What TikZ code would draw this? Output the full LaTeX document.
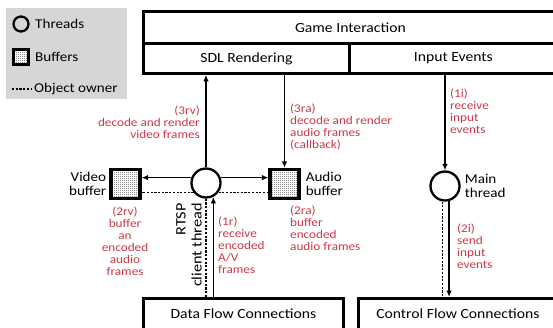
\documentclass[tikz,border=0pt]{standalone}
\usepackage{fontspec}
\setmainfont{Carlito}[FakeStretch=1.12]
\usetikzlibrary{arrows.meta,patterns}
\definecolor{stepred}{RGB}{205,55,70}
\definecolor{legendgray}{RGB}{214,214,214}

% fine grid of dots for the buffer fill
\pgfdeclarepatternformonly{finedots}{\pgfqpoint{-0.5pt}{-0.5pt}}{\pgfqpoint{1.5pt}{1.5pt}}{\pgfqpoint{2pt}{2pt}}{%
  \pgfpathcircle{\pgfqpoint{0.5pt}{0.5pt}}{0.5pt}\pgfusepath{fill}}

\begin{document}
\begin{tikzpicture}[x=1pt,y=-1pt,
  box/.style={draw,line width=2.8pt,inner sep=0pt,font=\fontsize{14}{16}\selectfont},
  thread/.style={draw,circle,line width=2.3pt,minimum size=29pt,inner sep=0pt},
  buffer/.style={draw,line width=3.2pt,minimum size=29pt,inner sep=0pt,
    preaction={fill=white},pattern=finedots,pattern color=black!55},
  flow/.style={line width=1.4pt,-{Latex[length=6.5pt,width=5.5pt]}},
  owner/.style={line width=1.2pt,dash pattern=on 2.2pt off 1.5pt},
  steplabel/.style={text=stepred,inner sep=0pt,font=\fontsize{11.8}{12}\selectfont},
  namelabel/.style={inner sep=0pt,font=\fontsize{13.5}{14}\selectfont},
  legendtext/.style={inner sep=0pt,anchor=west,font=\fontsize{13.5}{15}\selectfont},
]
\useasboundingbox (0,0) rectangle (553,327);

% legend
\node[fill=legendgray,minimum width=121pt,minimum height=91pt,anchor=north west,inner sep=0pt] (legend) at (6,8) {};
\node[thread,minimum size=15pt] (legthread) at (21,24) {};
\node[legendtext] (legthreadtext) at (35,24) {Threads};
\node[buffer,minimum size=15pt,line width=2.8pt] (legbuffer) at (21,57) {};
\node[legendtext] (legbuffertext) at (35,57) {Buffers};
\coordinate (ownA) at (12,89);
\coordinate (ownB) at (31,89);
\draw[owner] (ownA) -- (ownB);
\node[legendtext] (legownertext) at (34,89) {Object owner};

% top layer
\node[box,minimum width=414pt,minimum height=32pt,anchor=north west] (game) at (142,10) {Game Interaction};
\node[box,minimum width=206pt,minimum height=30pt,anchor=north west] (sdl) at (142,42) {SDL Rendering};
\node[box,minimum width=208pt,minimum height=30pt,anchor=north west] (input) at (348,42) {Input Events};

% bottom layer
\node[box,minimum width=200pt,minimum height=40pt,text height=9.5pt,text depth=9pt,anchor=north west] (data) at (142,297) {Data Flow Connections};
\node[box,minimum width=199pt,minimum height=40pt,text height=9.5pt,text depth=9pt,anchor=north west] (control) at (357,297) {Control Flow Connections};

% threads and buffers
\node[thread] (rtsp) at (206,183) {};
\node[thread] (main) at (445,186) {};
\node[buffer] (video) at (125.5,184) {};
\node[buffer] (audio) at (284.5,184) {};

\node[namelabel,align=right,anchor=east] (videotext) at ([xshift=-3pt]video.west) {Video\\buffer};
\node[namelabel,align=left,anchor=west] (audiotext) at ([xshift=5pt]audio.east) {Audio\\buffer};
\node[namelabel,align=left,anchor=west] (maintext) at ([xshift=4pt]main.east) {Main\\thread};
\node[inner sep=0pt,font=\fontsize{14.5}{16}\selectfont,align=right,rotate=90,anchor=south east] (rtsptext) at (202,203) {RTSP\\client thread};

% data and control flows
\draw[flow] (rtsp.north) -- (rtsp.north |- sdl.south);
\draw[flow] (sdl.south -| audio.north) -- (audio.north);
\draw[flow] (input.south -| main.north) -- (main.north);
\draw[flow] (rtsp.160) -- (rtsp.160 -| video.east);
\draw[flow] (rtsp.20) -- (rtsp.20 -| audio.west);
\draw[owner] (rtsp.217) -- (rtsp.217 -| video.east);
\draw[owner] (rtsp.323) -- (rtsp.323 -| audio.west);
\draw[flow] (data.north -| rtsp.298) -- (rtsp.298);
\draw[owner] (data.north -| rtsp.south) -- (rtsp.south);
\draw[owner] (main.262) -- (main.262 |- control.north);
\draw[flow] (main.285) -- (main.285 |- control.north);

% step labels
\node[steplabel,align=right,anchor=north east] (s3rv) at (200,106) {(3rv)\\decode and render\\video frames};
\node[steplabel,align=left,anchor=north west] (s3ra) at (290,104) {(3ra)\\decode and render\\audio frames\\(callback)};
\node[steplabel,align=left,anchor=north west] (s1i) at (450,89) {(1i)\\receive\\input\\events};
\node[steplabel,align=center,anchor=north] (s2rv) at (125,207) {(2rv)\\buffer\\an\\encoded\\audio\\frames};
\node[steplabel,align=left,anchor=north west] (s1r) at (218,217) {(1r)\\receive\\encoded\\A/V\\frames};
\node[steplabel,align=left,anchor=north west] (s2ra) at (290,206) {(2ra)\\buffer\\encoded\\audio frames};
\node[steplabel,align=left,anchor=north west] (s2i) at (457,224) {(2i)\\send\\input\\events};
\end{tikzpicture}
\end{document}
